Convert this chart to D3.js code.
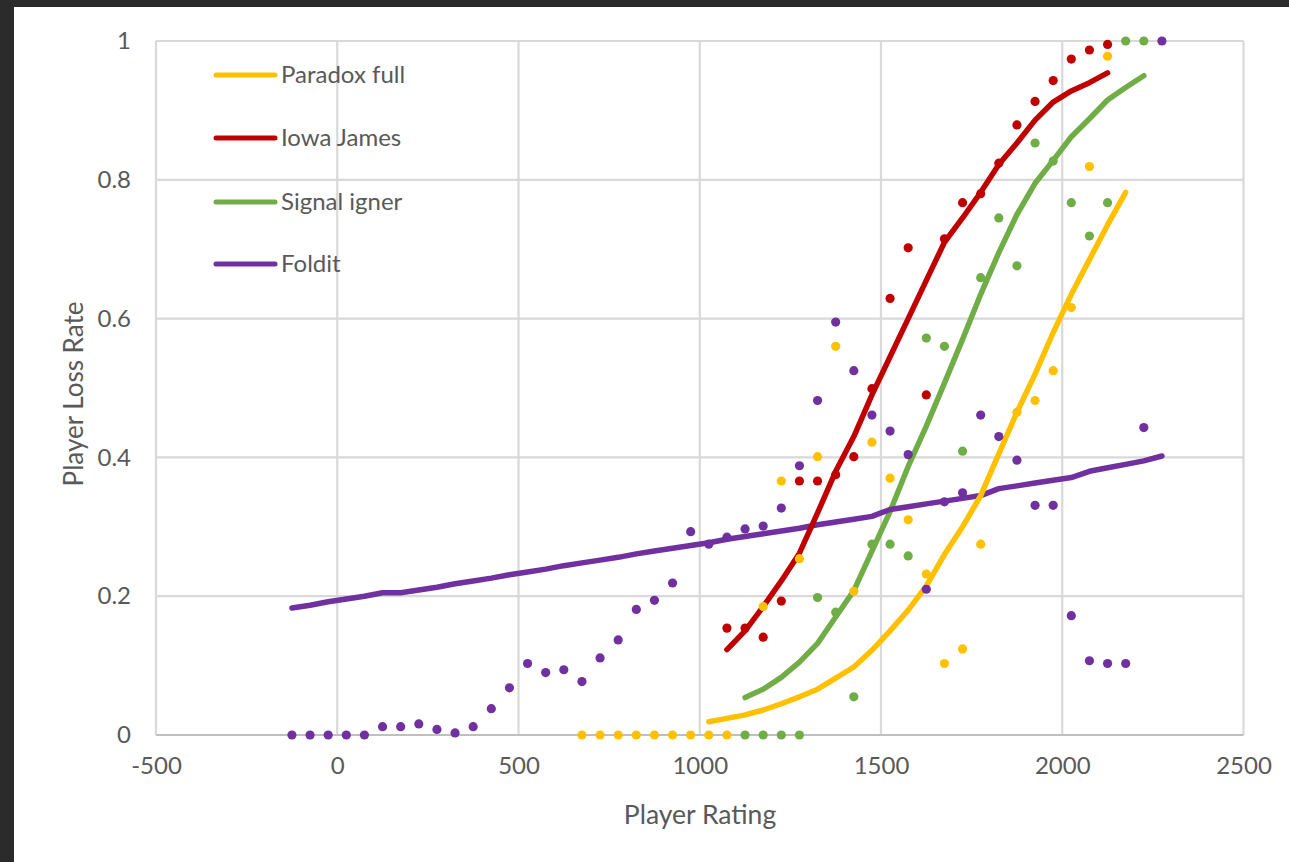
<!DOCTYPE html>
<html>
<head>
<meta charset="utf-8">
<script src="https://cdn.jsdelivr.net/npm/d3@7/dist/d3.min.js"></script>
<style>
  html, body { margin: 0; padding: 0; background: #ffffff; }
  svg { display: block; }
  text { font-family: Lato, "Open Sans", sans-serif; fill: #595959; }
</style>
</head>
<body>
<svg id="chart" width="1289" height="862"></svg>
<script>
// Rating bins (bin midpoints) and observed loss rates per game
const paradoxRatings = [675, 725, 775, 825, 875, 925, 975, 1025, 1075, 1175, 1225, 1275, 1325, 1375, 1425, 1475, 1525, 1575, 1625, 1675, 1725, 1775, 1875, 1925, 1975, 2025, 2075, 2125];
const paradoxLoss    = [0, 0, 0, 0, 0, 0, 0, 0, 0, 0.185, 0.366, 0.254, 0.401, 0.560, 0.207, 0.422, 0.370, 0.310, 0.232, 0.103, 0.124, 0.275, 0.465, 0.482, 0.525, 0.616, 0.819, 0.978];

const iowaRatings = [1075, 1125, 1175, 1225, 1275, 1325, 1375, 1425, 1475, 1525, 1575, 1625, 1675, 1725, 1775, 1825, 1875, 1925, 1975, 2025, 2075, 2125];
const iowaLoss    = [0.154, 0.154, 0.141, 0.193, 0.366, 0.366, 0.375, 0.401, 0.499, 0.629, 0.702, 0.490, 0.715, 0.767, 0.780, 0.824, 0.879, 0.913, 0.943, 0.974, 0.987, 0.995];

const signalRatings = [1125, 1175, 1225, 1275, 1325, 1375, 1425, 1475, 1525, 1575, 1625, 1675, 1725, 1775, 1825, 1875, 1925, 1975, 2025, 2075, 2125, 2175, 2225];
const signalLoss    = [0, 0, 0, 0, 0.198, 0.177, 0.055, 0.275, 0.275, 0.258, 0.572, 0.560, 0.409, 0.659, 0.745, 0.676, 0.853, 0.827, 0.767, 0.719, 0.767, 1.0, 1.0];

const folditRatings = [-125, -75, -25, 25, 75, 125, 175, 225, 275, 325, 375, 425, 475, 525, 575, 625, 675, 725, 775, 825, 875, 925, 975, 1025, 1075, 1125, 1175, 1225, 1275, 1325, 1375, 1425, 1475, 1525, 1575, 1625, 1675, 1725, 1775, 1825, 1875, 1925, 1975, 2025, 2075, 2125, 2175, 2225, 2275];
const folditLoss    = [0, 0, 0, 0, 0, 0.012, 0.012, 0.016, 0.008, 0.003, 0.012, 0.038, 0.068, 0.103, 0.090, 0.094, 0.077, 0.111, 0.137, 0.181, 0.194, 0.219, 0.293, 0.275, 0.285, 0.297, 0.301, 0.327, 0.388, 0.482, 0.595, 0.525, 0.461, 0.438, 0.404, 0.210, 0.336, 0.349, 0.461, 0.430, 0.396, 0.331, 0.331, 0.172, 0.107, 0.103, 0.103, 0.443, 1.0];

// Fitted loss-rate curves
const paradoxFitRatings = [1025, 1075, 1125, 1175, 1225, 1275, 1325, 1375, 1425, 1475, 1525, 1575, 1625, 1675, 1725, 1775, 1825, 1875, 1925, 1975, 2025, 2075, 2125, 2175];
const paradoxFit        = [0.019, 0.024, 0.029, 0.036, 0.045, 0.055, 0.066, 0.082, 0.098, 0.122, 0.150, 0.180, 0.215, 0.260, 0.300, 0.345, 0.405, 0.465, 0.520, 0.580, 0.635, 0.685, 0.735, 0.782];

const iowaFitRatings = [1075, 1125, 1175, 1225, 1275, 1325, 1375, 1425, 1475, 1525, 1575, 1625, 1675, 1725, 1775, 1825, 1875, 1925, 1975, 2025, 2075, 2125];
const iowaFit        = [0.123, 0.150, 0.185, 0.222, 0.262, 0.320, 0.380, 0.430, 0.490, 0.545, 0.600, 0.655, 0.710, 0.745, 0.782, 0.822, 0.853, 0.886, 0.912, 0.928, 0.940, 0.954];

const signalFitRatings = [1125, 1175, 1225, 1275, 1325, 1375, 1425, 1475, 1525, 1575, 1625, 1675, 1725, 1775, 1825, 1875, 1925, 1975, 2025, 2075, 2125, 2175, 2225];
const signalFit        = [0.054, 0.066, 0.083, 0.105, 0.132, 0.170, 0.208, 0.265, 0.322, 0.387, 0.445, 0.507, 0.570, 0.635, 0.695, 0.750, 0.795, 0.828, 0.862, 0.888, 0.915, 0.933, 0.950];

const folditFitRatings = folditRatings;
const folditFit        = [0.183, 0.187, 0.192, 0.196, 0.200, 0.205, 0.205, 0.209, 0.213, 0.218, 0.222, 0.226, 0.231, 0.235, 0.239, 0.244, 0.248, 0.252, 0.256, 0.261, 0.265, 0.269, 0.273, 0.277, 0.282, 0.286, 0.290, 0.294, 0.298, 0.303, 0.307, 0.311, 0.315, 0.325, 0.329, 0.333, 0.337, 0.341, 0.345, 0.355, 0.359, 0.363, 0.367, 0.371, 0.380, 0.385, 0.390, 0.395, 0.402];

const xTicks = [-500, 0, 500, 1000, 1500, 2000, 2500];
const xTickLabels = ["-500", "0", "500", "1000", "1500", "2000", "2500"];
const yTicks = [0, 0.2, 0.4, 0.6, 0.8, 1];
const yTickLabels = ["0", "0.2", "0.4", "0.6", "0.8", "1"];

const seriesNames = ["Paradox full", "Iowa James", "Signal igner", "Foldit"];
const seriesColors = ["#FFC000", "#C00000", "#70AD47", "#7030A0"];

const svg = d3.select("#chart");

// dark frame along top and left edges
svg.append("rect").attr("x", 0).attr("y", 0).attr("width", 1289).attr("height", 7).attr("fill", "#2b2b2b");
svg.append("rect").attr("x", 0).attr("y", 0).attr("width", 14).attr("height", 862).attr("fill", "#2b2b2b");

const x = d3.scaleLinear().domain([-500, 2500]).range([156, 1243.5]);
const y = d3.scaleLinear().domain([0, 1]).range([735, 41]);

// gridlines
const grid = svg.append("g");
grid.selectAll("line.h").data(yTicks.filter(d => d > 0)).join("line")
  .attr("x1", x(-500)).attr("x2", x(2500))
  .attr("y1", d => y(d)).attr("y2", d => y(d))
  .attr("stroke", "#d9d9d9").attr("stroke-width", 2.2);
grid.selectAll("line.v").data(xTicks).join("line")
  .attr("x1", d => x(d)).attr("x2", d => x(d))
  .attr("y1", y(1)).attr("y2", y(0))
  .attr("stroke", "#d9d9d9").attr("stroke-width", 2.2);
// baseline
svg.append("line")
  .attr("x1", x(-500)).attr("x2", x(2500)).attr("y1", y(0)).attr("y2", y(0))
  .attr("stroke", "#bfbfbf").attr("stroke-width", 2.2);

// axes (labels only)
const xAxis = d3.axisBottom(x).tickValues(xTicks).tickSize(0).tickPadding(0)
  .tickFormat((d, i) => xTickLabels[i]);
const gx = svg.append("g").attr("transform", `translate(0,${y(0) + 22})`).call(xAxis);
gx.select(".domain").remove();
gx.selectAll("text").attr("font-size", 24).attr("fill", "#595959")
  .attr("font-family", "Lato, 'Open Sans', sans-serif").attr("dy", "0.71em");

const yAxis = d3.axisLeft(y).tickValues(yTicks).tickSize(0).tickPadding(0)
  .tickFormat((d, i) => yTickLabels[i]);
const gy = svg.append("g").attr("transform", `translate(131,0)`).call(yAxis);
gy.select(".domain").remove();
gy.selectAll("text").attr("font-size", 24).attr("fill", "#595959")
  .attr("font-family", "Lato, 'Open Sans', sans-serif");

// axis titles
svg.append("text").attr("x", 700).attr("y", 824).attr("text-anchor", "middle")
  .attr("font-size", 26.5).text("Player Rating");
svg.append("text").attr("transform", "translate(83,394) rotate(-90)").attr("text-anchor", "middle")
  .attr("font-size", 26).text("Player Loss Rate");

// fitted curves
const line = d3.line().x(d => x(d[0])).y(d => y(d[1]));
const fits = [
  { r: signalFitRatings, v: signalFit, c: seriesColors[2] },
  { r: folditFitRatings, v: folditFit, c: seriesColors[3] },
  { r: iowaFitRatings, v: iowaFit, c: seriesColors[1] },
  { r: paradoxFitRatings, v: paradoxFit, c: seriesColors[0] }
];
fits.forEach(f => {
  svg.append("path").datum(d3.zip(f.r, f.v)).attr("d", line)
    .attr("fill", "none").attr("stroke", f.c).attr("stroke-width", 5.5)
    .attr("stroke-linecap", "round").attr("stroke-linejoin", "round");
});

// observed points
const obs = [
  { r: folditRatings, v: folditLoss, c: seriesColors[3] },
  { r: signalRatings, v: signalLoss, c: seriesColors[2] },
  { r: iowaRatings, v: iowaLoss, c: seriesColors[1] },
  { r: paradoxRatings, v: paradoxLoss, c: seriesColors[0] }
];
obs.forEach(o => {
  svg.append("g").selectAll("circle").data(d3.zip(o.r, o.v)).join("circle")
    .attr("cx", d => x(d[0])).attr("cy", d => y(d[1])).attr("r", 4.6)
    .attr("fill", o.c);
});

// legend
const legendY = [75, 138, 202, 264];
const lg = svg.append("g");
seriesNames.forEach((name, i) => {
  lg.append("line").attr("x1", 216).attr("x2", 275).attr("y1", legendY[i]).attr("y2", legendY[i])
    .attr("stroke", seriesColors[i]).attr("stroke-width", 5).attr("stroke-linecap", "round");
  lg.append("text").attr("x", 281).attr("y", legendY[i]).attr("dy", "0.35em")
    .attr("font-size", 24).text(name);
});
</script>
</body>
</html>
